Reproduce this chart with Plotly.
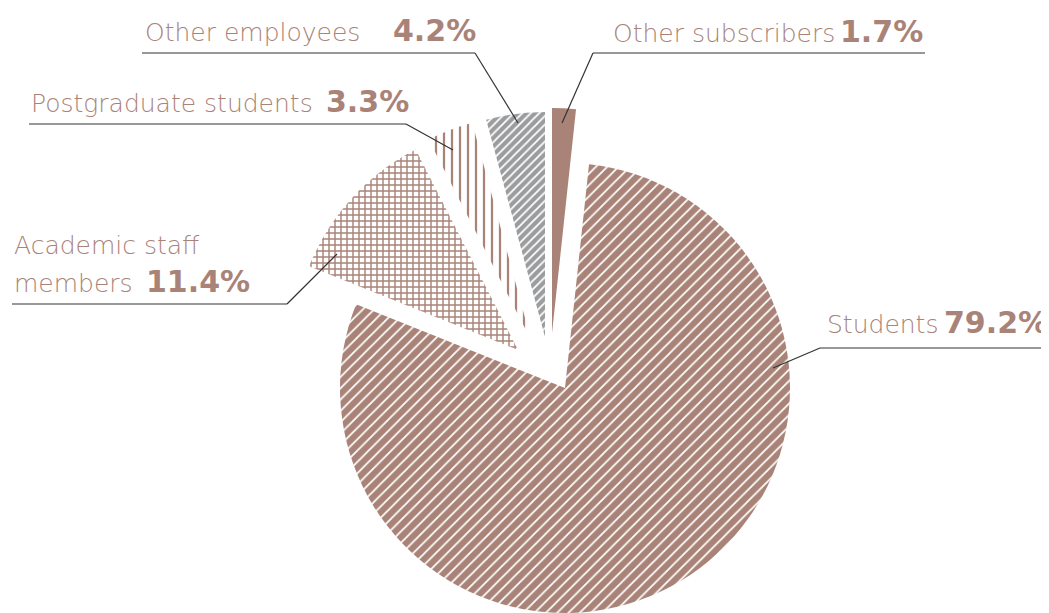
import plotly.graph_objects as go

# ---- data ----
categories = ["Other subscribers", "Students", "Academic staff members",
              "Postgraduate students", "Other employees"]
shares = [1.7, 79.2, 11.4, 3.3, 4.2]
label_lines = [["Other subscribers"], ["Students"], ["Academic staff", "members"],
               ["Postgraduate students"], ["Other employees"]]
pct_labels = [f"{v}%" for v in shares]

# ---- styles ----
W, H = 1049, 613
OFF = 8  # page body margin; positions below are screen px
BROWN = "#a98378"
GREY = "#9b9c9e"
TXT = "#a98378"
LINE = "#333333"
R = 225  # pie radius in px

slice_color = [BROWN, BROWN, "white", "white", GREY]
pat_shape = ["", "/", "+", "|", "/"]
pat_fg = [BROWN, "white", BROWN, BROWN, "white"]
pat_bg = [BROWN, BROWN, "white", "white", GREY]
pat_size = [8, 8, 6, 8, 6]
pat_sol = [0.3, 0.22, 0.42, 0.28, 0.3]

# apex (tip) of each exploded slice, screen px
apex = [(552, 333), (565, 388), (518, 350), (531, 340), (545, 337)]


def fx(x):
    return (x - OFF) / W


def fy(y):
    return 1 - (y - OFF) / H


fig = go.Figure()
n = len(shares)
for i in range(n):
    ax, ay = apex[i]
    ax -= OFF
    ay -= OFF
    colors = ["rgba(0,0,0,0)"] * n
    colors[i] = slice_color[i]
    shp = [""] * n
    shp[i] = pat_shape[i]
    fg = ["rgba(0,0,0,0)"] * n
    fg[i] = pat_fg[i]
    bg = ["rgba(0,0,0,0)"] * n
    bg[i] = pat_bg[i]
    fig.add_trace(go.Pie(
        labels=categories, values=shares, sort=False, direction="clockwise",
        rotation=0, textinfo="none", hoverinfo="label+percent", showlegend=False,
        marker=dict(colors=colors, line=dict(width=0),
                    pattern=dict(shape=shp, fgcolor=fg, bgcolor=bg,
                                 size=pat_size[i], solidity=pat_sol[i],
                                 fillmode="replace")),
        domain=dict(x=[max(0, (ax - R) / W), min(1, (ax + R) / W)],
                    y=[max(0, (H - ay - R) / H), min(1, (H - ay + R) / H)]),
    ))

# label layout (screen px): text x, baselines, pct right x, underline (x0,x1,y), leader start/end
label_pos = [
    dict(tx=611, base=[43], pr=925, ul=(593, 925, 53), ls=593, lead=(562, 123)),
    dict(tx=825, base=[334], pr=1050, ul=(820, 1057, 348), ls=820, lead=(773, 368)),
    dict(tx=12, base=[255, 293], pr=252, ul=(12, 287, 304), ls=287, lead=(337, 254)),
    dict(tx=29, base=[113], pr=411, ul=(29, 406, 124), ls=406, lead=(453, 150)),
    dict(tx=143, base=[42], pr=478, ul=(142, 475, 53), ls=475, lead=(518, 123)),
]

LBL_SIZE = 25
PCT_SIZE = 30
lbl_font = dict(family="'DejaVu Sans'", size=LBL_SIZE, color=TXT, weight=200)
pct_font = dict(family="'DejaVu Sans'", size=PCT_SIZE, color=TXT, weight="bold")

annotations = []
shapes = []
for i in range(n):
    p = label_pos[i]
    for line, b in zip(label_lines[i], p["base"]):
        annotations.append(dict(
            text=line, x=fx(p["tx"]), y=fy(b + 0.236 * LBL_SIZE + 1),
            xref="paper", yref="paper", xanchor="left", yanchor="bottom",
            showarrow=False, font=lbl_font))
    b = p["base"][-1]
    annotations.append(dict(
        text=f"<b>{pct_labels[i]}</b>", x=fx(p["pr"]), y=fy(b + 0.236 * PCT_SIZE + 1),
        xref="paper", yref="paper", xanchor="right", yanchor="bottom",
        showarrow=False, font=pct_font))
    x0, x1, yy = p["ul"]
    shapes.append(dict(type="line", xref="paper", yref="paper",
                       x0=fx(x0), x1=fx(x1), y0=fy(yy), y1=fy(yy),
                       line=dict(color=LINE, width=1.2)))
    lx, ly = p["lead"]
    shapes.append(dict(type="line", xref="paper", yref="paper",
                       x0=fx(p["ls"]), y0=fy(yy), x1=fx(lx), y1=fy(ly),
                       line=dict(color=LINE, width=1.2)))

fig.update_layout(
    width=W, height=H, margin=dict(l=0, r=0, t=0, b=0),
    paper_bgcolor="white", plot_bgcolor="white",
    annotations=annotations, shapes=shapes,
)
fig.write_html("out.html")
